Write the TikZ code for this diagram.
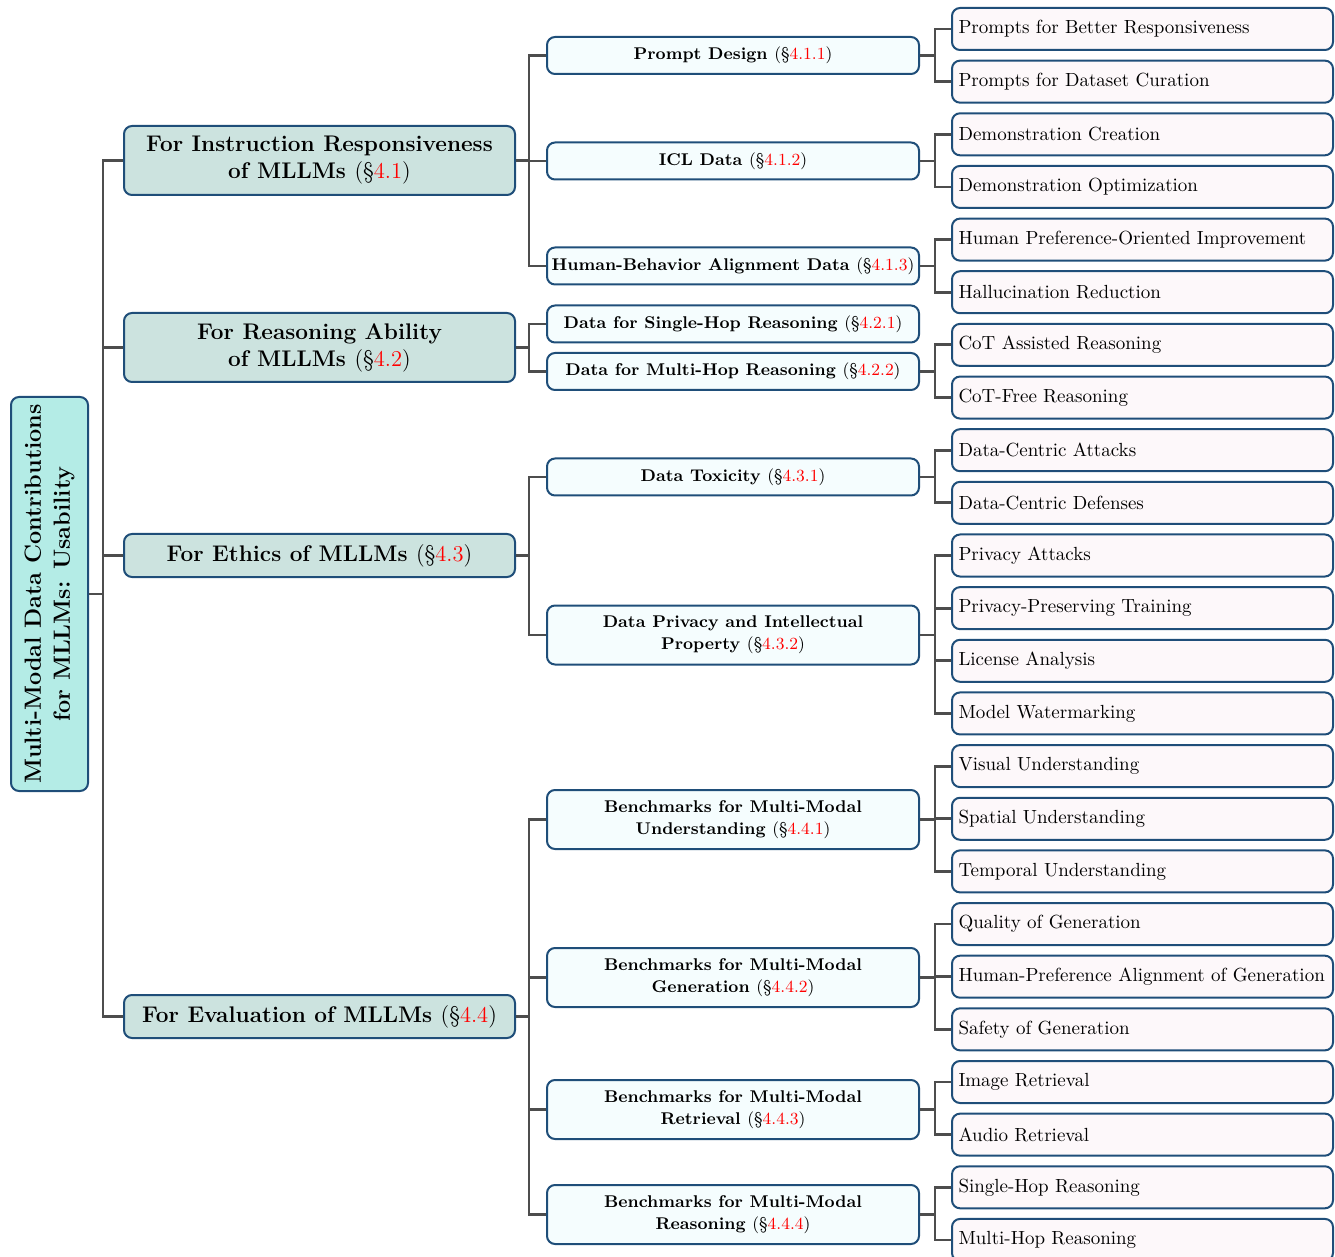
\documentclass[tikz,border=0pt]{standalone}
\usepackage{tikz}
\usetikzlibrary{calc}

\definecolor{boxline}{HTML}{1F4E79}
\definecolor{rootfill}{HTML}{B4ECE6}
\definecolor{topfill}{HTML}{CCE3DF}
\definecolor{midfill}{HTML}{F5FDFE}
\definecolor{leaffill}{HTML}{FDF8FA}
\definecolor{branchline}{HTML}{4D4D4D}

\newcommand{\secnum}[1]{{\mdseries(\S\textcolor{red}{#1})}}

\begin{document}
\begin{tikzpicture}[x=0.5pt,y=-0.5pt,
  box/.style={draw=boxline, line width=1pt, rounded corners=4pt, inner sep=2pt},
  rootbox/.style={box, fill=rootfill, minimum width=38.5pt, minimum height=197pt},
  topbox/.style={box, fill=topfill, minimum width=195.5pt, align=center,
    font=\fontsize{11.3}{13.5}\selectfont\bfseries},
  midbox/.style={box, fill=midfill, minimum width=186pt, align=center,
    font=\fontsize{8.5}{11}\selectfont\bfseries},
  leafbox/.style={box, fill=leaffill, anchor=west, inner xsep=3pt,
    minimum width=190.5pt, minimum height=21pt, font=\fontsize{9.5}{11}\selectfont},
  branch/.style={draw=branchline, line width=1.4pt}]

  \useasboundingbox (0,0) rectangle (1335,1257);

  % root
  \node[rootbox] (root) at (49.5,594) {};
  \node[rotate=90, align=center, font=\fontsize{11.7}{14.5}\selectfont\bfseries] (roottext)
    at (root.center) {Multi-Modal Data Contributions\\for MLLMs: Usability};

  % first level
  \node[topbox, minimum height=34.5pt] (resp) at (319.5,160.5)
    {For Instruction Responsiveness\\of MLLMs \secnum{4.1}};
  \node[topbox, minimum height=34.5pt] (reason) at (319.5,347.5)
    {For Reasoning Ability\\of MLLMs \secnum{4.2}};
  \node[topbox, minimum height=21.5pt] (ethics) at (319.5,555.5)
    {For Ethics of MLLMs \secnum{4.3}};
  \node[topbox, minimum height=21.5pt] (eval) at (319.5,1016.5)
    {For Evaluation of MLLMs \secnum{4.4}};

  % second level
  \node[midbox, minimum height=18.5pt] (prompt) at (733,55.5) {Prompt Design \secnum{4.1.1}};
  \node[midbox, minimum height=18.5pt] (icl) at (733,161) {ICL Data \secnum{4.1.2}};
  \node[midbox, minimum height=18.5pt] (human) at (733,266) {Human-Behavior Alignment Data \secnum{4.1.3}};
  \node[midbox, minimum height=18.5pt] (single) at (733,324) {Data for Single-Hop Reasoning \secnum{4.2.1}};
  \node[midbox, minimum height=18.5pt] (multi) at (733,371.5) {Data for Multi-Hop Reasoning \secnum{4.2.2}};
  \node[midbox, minimum height=18.5pt] (toxic) at (733,477) {Data Toxicity \secnum{4.3.1}};
  \node[midbox, minimum height=29.5pt] (privacy) at (733,635)
    {Data Privacy and Intellectual\\Property \secnum{4.3.2}};
  \node[midbox, minimum height=29.5pt] (bunder) at (733,819.5)
    {Benchmarks for Multi-Modal\\Understanding \secnum{4.4.1}};
  \node[midbox, minimum height=29.5pt] (bgen) at (733,977.5)
    {Benchmarks for Multi-Modal\\Generation \secnum{4.4.2}};
  \node[midbox, minimum height=29.5pt] (bret) at (733,1109.5)
    {Benchmarks for Multi-Modal\\Retrieval \secnum{4.4.3}};
  \node[midbox, minimum height=29.5pt] (breas) at (733,1214.5)
    {Benchmarks for Multi-Modal\\Reasoning \secnum{4.4.4}};

  % leaves
  \foreach \txt [count=\i] in {Prompts for Better Responsiveness, Prompts for Dataset Curation,
    Demonstration Creation, Demonstration Optimization,
    Human Preference-Oriented Improvement, Hallucination Reduction,
    CoT Assisted Reasoning, CoT-Free Reasoning,
    Data-Centric Attacks, Data-Centric Defenses,
    Privacy Attacks, Privacy-Preserving Training, License Analysis, Model Watermarking,
    Visual Understanding, Spatial Understanding, Temporal Understanding,
    Quality of Generation, Human-Preference Alignment of Generation, Safety of Generation,
    Image Retrieval, Audio Retrieval,
    Single-Hop Reasoning, Multi-Hop Reasoning}
    \node[leafbox] (l\i) at (951,{29+52.65*(\i-1)}) {\makebox[184pt][l]{\txt}};

  % connectors
  \foreach \c in {resp,reason,ethics,eval}
    \draw[branch] (root.east) -- ++(7pt,0) |- (\c.west);
  \foreach \p/\c in {resp/prompt,resp/icl,resp/human,reason/single,reason/multi,
    ethics/toxic,ethics/privacy,eval/bunder,eval/bgen,eval/bret,eval/breas}
    \draw[branch] (\p.east) -- ++(6.5pt,0) |- (\c.west);
  \foreach \p/\c in {prompt/1,prompt/2,icl/3,icl/4,human/5,human/6,multi/7,multi/8,
    toxic/9,toxic/10,privacy/11,privacy/12,privacy/13,privacy/14,
    bunder/15,bunder/16,bunder/17,bgen/18,bgen/19,bgen/20,
    bret/21,bret/22,breas/23,breas/24}
    \draw[branch] (\p.east) -- ++(7.5pt,0) |- (l\c.west);
\end{tikzpicture}
\end{document}
